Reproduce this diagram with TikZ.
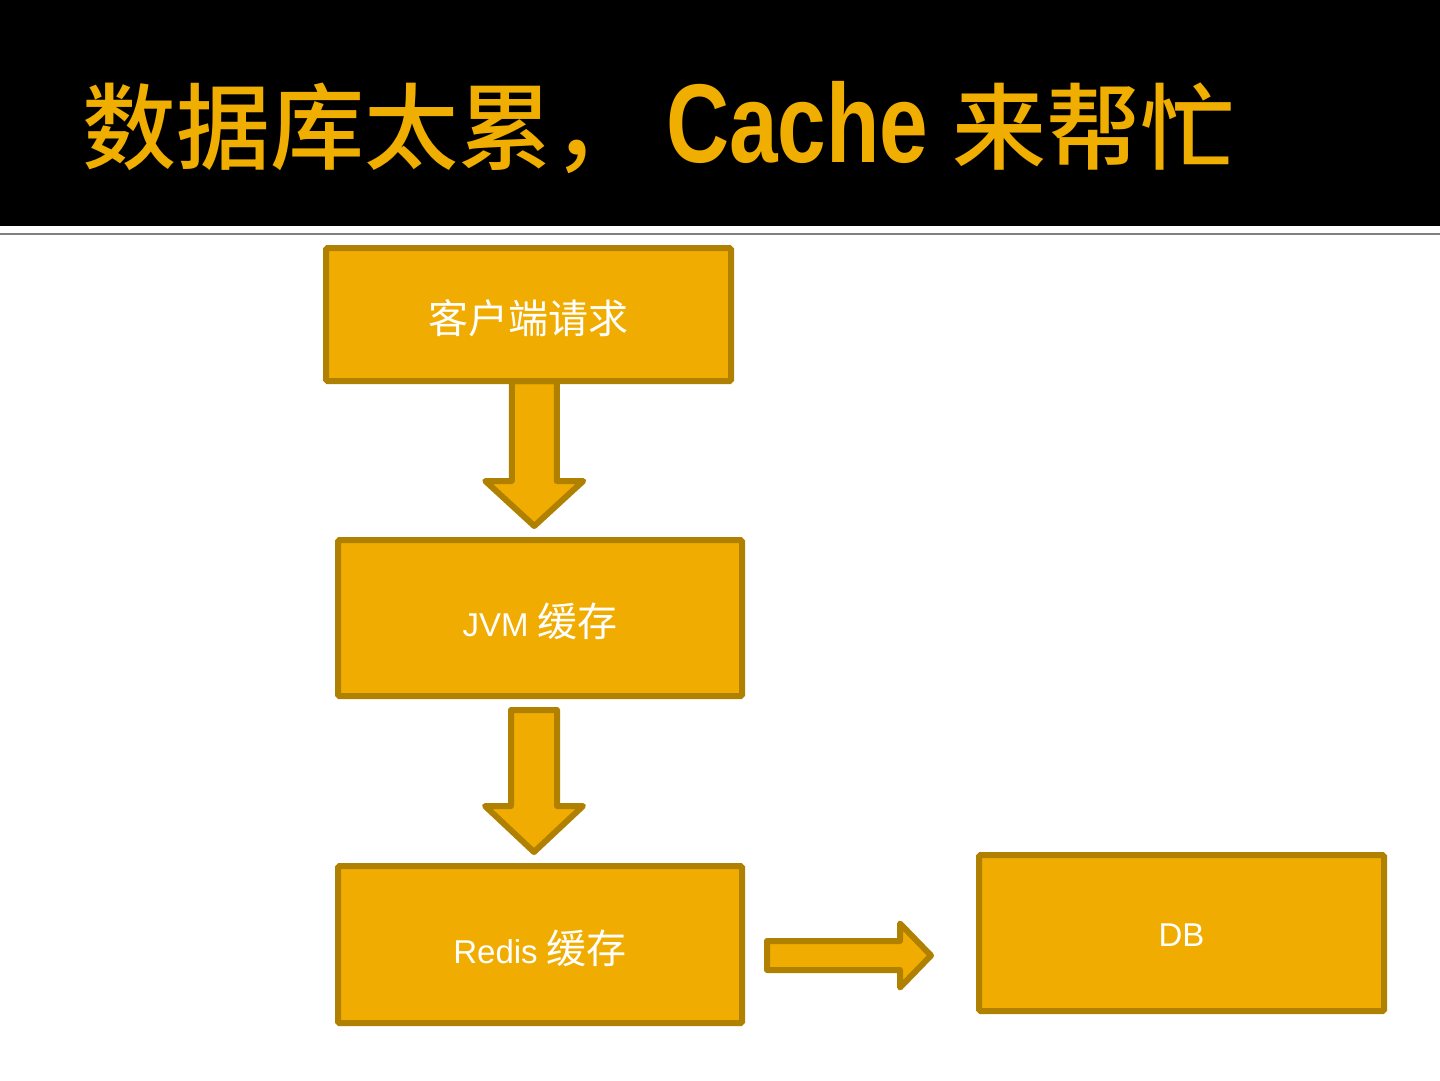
\documentclass[tikz,border=0pt]{standalone}
\usepackage{fontspec}
\newfontfamily\cjk{Noto Sans CJK SC}
\newfontfamily\cjkmed{Noto Sans CJK SC Medium}
\newfontfamily\latf{Liberation Sans}
\newfontfamily\titlelat[FakeStretch=0.78]{Liberation Sans}
\usetikzlibrary{calc,backgrounds}
\definecolor{boxfill}{RGB}{240,172,0}
\definecolor{boxline}{RGB}{176,128,0}
\definecolor{titlecol}{RGB}{240,174,0}
\definecolor{rulegray}{RGB}{128,128,128}
\newcommand{\lat}[1]{{\latf\fontsize{33}{40}\selectfont #1}}
\begin{document}
\begin{tikzpicture}[x=1pt,y=-1pt,
  box/.style={draw=boxline, fill=boxfill, line width=6pt, rounded corners=1.5pt,
    minimum width=405pt, inner sep=0pt, text=white, text height=37pt, text depth=0pt,
    font=\cjk\fontsize{40}{48}\selectfont},
  blk/.style={draw=boxline, fill=boxfill, line width=6pt, line join=round},
  titletext/.style={anchor=base west, inner sep=0pt, text=titlecol,
    font=\cjkmed\fontsize{94}{100}\selectfont}]
\useasboundingbox (0,0) rectangle (1440,1080);
\node[titletext] (title) at (82,162) {数据库太累，\hspace{20pt}{\titlelat\bfseries\fontsize{112}{120}\selectfont Cache }来帮忙};
\node[box, minimum height=133pt] (req) at (528.5,314.5) {客户端请求};
\node[box, minimum width=404pt, minimum height=156pt] (jvm) at (540,618) {\lat{JVM} 缓存};
\node[box, minimum width=404pt, minimum height=157pt] (redis) at (540,944.5) {\lat{Redis} 缓存};
\node[box, minimum height=156pt, text height=27.6pt] (db) at (1181.5,933) {\lat{DB}};
\begin{scope}[on background layer]
  \fill[white] (0,0) rectangle (1440,1080);
  \fill[black] (0,0) rectangle (1440,226);
  \draw[rulegray, line width=2pt] (0,233.5) -- (1440,233.5);
  % arrow 1
  \draw[blk] let \p1=(req.south), \p2=(jvm.north), \p3=($(\p1)!.5!(\p2)$) in
    (\x3-22.5pt,\y1+3pt) -- (\x3-22.5pt,\y2+56pt) -- (\x3-49pt,\y2+56pt)
    -- (\x3,\y2+11pt) -- (\x3+49pt,\y2+56pt) -- (\x3+22.5pt,\y2+56pt)
    -- (\x3+22.5pt,\y1+3pt) -- cycle;
  % arrow 2
  \draw[blk] let \p1=(jvm.south), \p2=(redis.north), \p3=($(\p1)!.5!(\p2)$) in
    (\x3-6pt-23pt,\y1-11pt) -- (\x3-6pt-23pt,\y2+57pt) -- (\x3-6pt-49pt,\y2+57pt)
    -- (\x3-6pt,\y2+11pt) -- (\x3-6pt+49pt,\y2+57pt) -- (\x3-6pt+23pt,\y2+57pt)
    -- (\x3-6pt+23pt,\y1-11pt) -- cycle;
  % arrow 3
  \draw[blk] let \p1=(redis.east), \p2=(db.west) in
    (\x1+22pt,\y1-11pt+14.5pt) -- (\x2-76pt,\y1-11pt+14.5pt) -- (\x2-76pt,\y1-11pt+32pt)
    -- (\x2-45pt,\y1-11pt) -- (\x2-76pt,\y1-11pt-32pt) -- (\x2-76pt,\y1-11pt-14.5pt)
    -- (\x1+22pt,\y1-11pt-14.5pt) -- cycle;
\end{scope}
\end{tikzpicture}
\end{document}
